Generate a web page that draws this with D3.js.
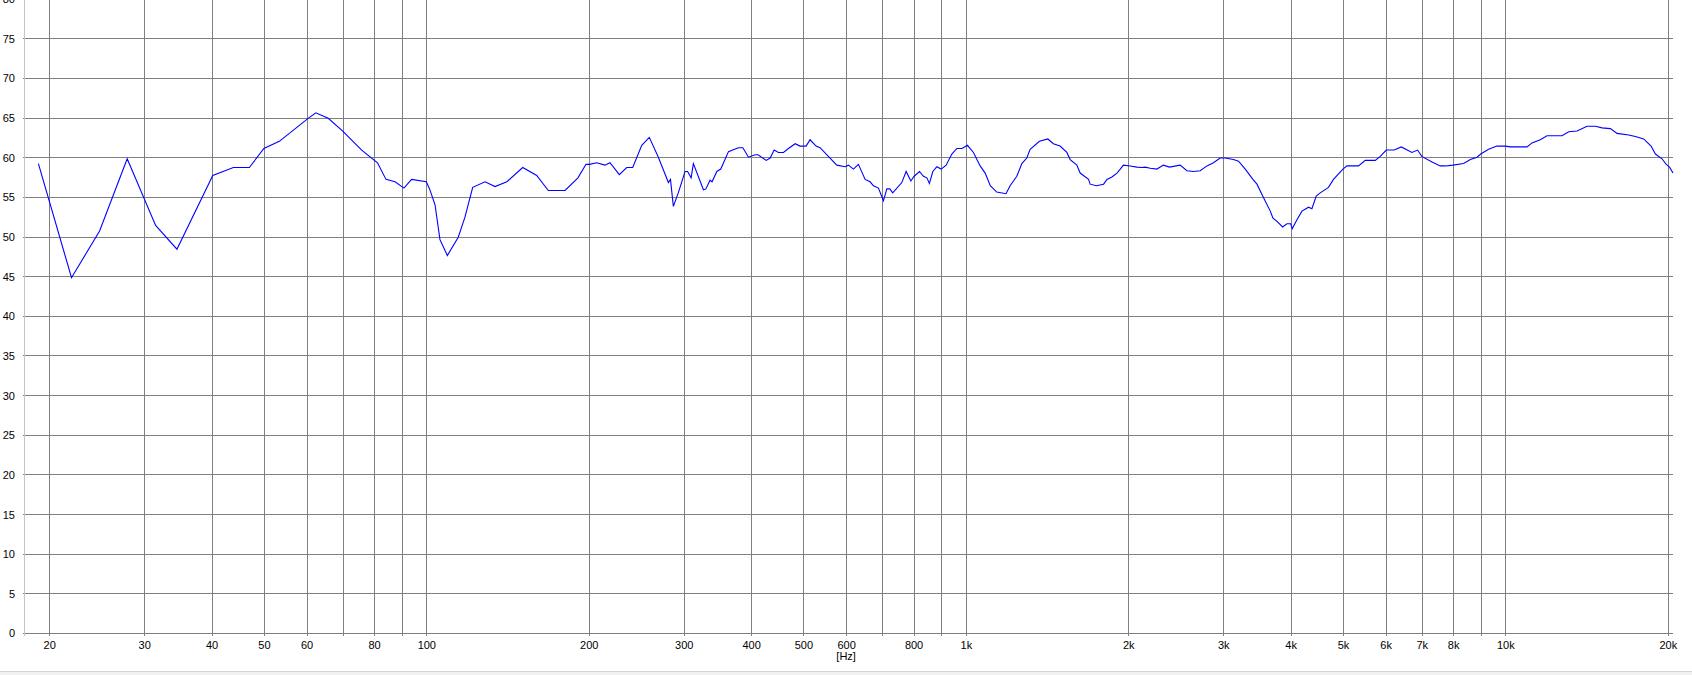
<!DOCTYPE html>
<html>
<head>
<meta charset="utf-8">
<script src="https://cdn.jsdelivr.net/npm/d3@7"></script>
<style>
html,body{margin:0;padding:0;background:#fff;overflow:hidden;}
svg{display:block;}
text{font-family:"Liberation Sans",Arial,sans-serif;font-size:11px;fill:#000;}
</style>
</head>
<body>
<svg id="chart" width="1692" height="675"></svg>
<script>
const freqs = [19.1,22,24.8,27.9,31.5,34.5,40.2,43.9,47,50,53.4,60.4,62.4,65.8,70,75.9,81.2,84.2,87.5,90.9,93.9,100,101.4,103.8,106,109.4,114.6,117.9,121.9,128.5,134.1,141,150.9,160.2,168.3,180.8,191,197.7,200.6,206.9,214.3,219,227.9,235.2,241.3,250.8,259,269.2,281,283.5,287,293.1,301.7,305,309.6,312.6,326.3,329.8,335.7,338.5,345.5,351.4,363.1,378.9,386.1,395.5,406.9,412,426.5,433.8,441.3,449.5,459.2,469,482.7,492.9,505.7,514.4,527.7,536.8,556.2,576.5,597.3,605.8,619,632.3,650.6,664.7,674.1,688.7,703.5,713.8,723,731.8,760.9,775.1,790.8,802,820.5,834.5,846.8,856,868.6,883.5,900,919.4,942,962.5,983.3,1006.8,1033,1063,1086,1110,1141,1187,1208,1243,1270,1297,1316,1369,1419,1453,1495,1539,1561,1606,1629,1688,1700,1746,1800,1826,1865,1906,1933,1959,2016,2075,2120,2150,2197,2260,2324,2384,2496,2569,2642,2719,2798,2877,2960,3024,3134,3202,3295,3405,3464,3563,3667,3709,3773,3864,3937,4000,4028,4109,4198,4317,4380,4461,4538,4700,4802,5000,5085,5344,5499,5739,5863,6016,6223,6414,6712,6875,7000,7311,7574,7737,8000,8366,8613,8862,9000,9310,9643,10000,10211,10507,10808,10970,11203,11606,11944,12735,13101,13578,14170,14684,15109,15654,16107,16925,17415,18044,18623,18970,19512,19870,20152,20447];
const spl = [59.2,44.8,50.7,59.8,51.4,48.4,57.7,58.7,58.7,61.1,62.0,64.9,65.6,64.9,63.3,60.9,59.3,57.2,56.9,56.1,57.2,56.9,56.0,54.0,49.6,47.6,49.9,52.4,56.2,56.9,56.3,56.9,58.7,57.7,55.8,55.8,57.4,59.1,59.1,59.3,59.0,59.3,57.8,58.7,58.7,61.5,62.5,60.0,56.8,57.2,53.8,55.5,58.2,58.2,57.4,59.2,55.9,56.0,57.1,56.9,58.2,58.5,60.7,61.2,61.2,60.0,60.3,60.3,59.6,59.9,60.9,60.6,60.6,61.1,61.7,61.4,61.4,62.2,61.4,61.2,60.1,59.0,58.8,59.0,58.5,59.1,57.2,56.9,56.4,56.1,54.5,56.0,56.0,55.5,56.8,58.2,57.0,57.6,58.2,57.6,57.4,56.7,58.2,58.8,58.5,59.0,60.4,61.1,61.1,61.5,60.6,58.9,58.0,56.4,55.6,55.4,56.4,57.6,59.2,59.9,61.0,62.0,62.3,61.7,61.4,60.6,59.7,59.0,58.0,57.2,56.6,56.4,56.6,57.2,57.5,58.0,58.5,59.0,58.9,58.75,58.7,58.75,58.6,58.5,59.0,58.75,59.0,58.3,58.2,58.3,58.9,59.3,59.9,59.9,59.7,59.5,58.5,57.2,56.6,54.9,53.2,52.3,51.9,51.2,51.6,51.6,51.0,52.1,53.2,53.7,53.5,55.1,55.5,56.2,57.2,58.5,58.9,58.9,59.6,59.6,60.1,60.9,60.9,61.3,60.6,60.9,60.1,59.4,58.9,58.9,59.0,59.2,59.7,60.0,60.4,61.0,61.4,61.4,61.3,61.3,61.3,61.3,61.8,62.2,62.7,62.7,63.2,63.3,63.9,63.9,63.7,63.6,63.0,62.8,62.6,62.3,61.4,60.4,59.8,59.1,58.75,58.0];
const gridFreqs = [20,30,40,50,60,70,80,90,100,200,300,400,500,600,700,800,900,1000,2000,3000,4000,5000,6000,7000,8000,9000,10000,20000];
const labelFreqs = [20,30,40,50,60,80,100,200,300,400,500,600,800,1000,2000,3000,4000,5000,6000,7000,8000,10000,20000];
const labelTexts = ["20","30","40","50","60","80","100","200","300","400","500","600","800","1k","2k","3k","4k","5k","6k","7k","8k","10k","20k"];
const yTicks = [0,5,10,15,20,25,30,35,40,45,50,55,60,65,70,75,80];
const unitLabel = "[Hz]";

const svg = d3.select("#chart");
const left = 24.5, right = 1673, bottom = 633;
const x = d3.scaleLog().domain([18, 20450]).range([left, right]);
const y = d3.scaleLinear().domain([0, 80]).range([bottom, bottom - 80*7.93]);

svg.append("rect").attr("width",1692).attr("height",675).attr("fill","#fff");

// horizontal grid + y labels
const yAxis = d3.axisLeft(y).tickValues(yTicks).tickSizeInner(-(right - 22.5)).tickSizeOuter(0).tickPadding(7.5).tickFormat(d3.format("d"));
const gy = svg.append("g").attr("transform","translate(22.5,0)").call(yAxis);
gy.select(".domain").remove();
gy.selectAll(".tick line").attr("stroke","#808080").attr("shape-rendering","crispEdges")
  .attr("transform", function(){return "translate(0," + (Math.round(+0) ) + ")";});
gy.selectAll(".tick text").attr("font-family","Liberation Sans, Arial, sans-serif").attr("font-size","11px").attr("fill","#000").attr("dy","0.36em");

// vertical grid + x labels
const labelMap = new Map(labelFreqs.map((f,i)=>[f,labelTexts[i]]));
const xAxis = d3.axisBottom(x).tickValues(gridFreqs).tickSizeInner(-636).tickSizeOuter(0).tickPadding(5.5).tickFormat(d => labelMap.get(d) || "");
const gx = svg.append("g").attr("transform","translate(0,636)").call(xAxis);
gx.select(".domain").remove();
gx.selectAll(".tick line").attr("stroke","#808080").attr("shape-rendering","crispEdges");
gx.selectAll(".tick text").attr("font-family","Liberation Sans, Arial, sans-serif").attr("font-size","11px").attr("fill","#000");

// unit label
svg.append("text").attr("x", x(600)).attr("y", 659.5).attr("text-anchor","middle").text(unitLabel);

// left axis line (light)
svg.append("line").attr("x1",left).attr("x2",left).attr("y1",0).attr("y2",636)
  .attr("stroke","#c4c4c4").attr("shape-rendering","crispEdges");

// curve
const line = d3.line().x((d,i)=>x(freqs[i])).y((d,i)=>y(spl[i]));
svg.append("path").datum(spl).attr("d", line).attr("fill","none").attr("stroke","#0000ff").attr("stroke-width",1.1);

// bottom window border
svg.append("rect").attr("x",0).attr("y",671).attr("width",1692).attr("height",4).attr("fill","#f0f0f0");
svg.append("line").attr("x1",0).attr("x2",1692).attr("y1",671.5).attr("y2",671.5).attr("stroke","#d4d4d4");
</script>
</body>
</html>
